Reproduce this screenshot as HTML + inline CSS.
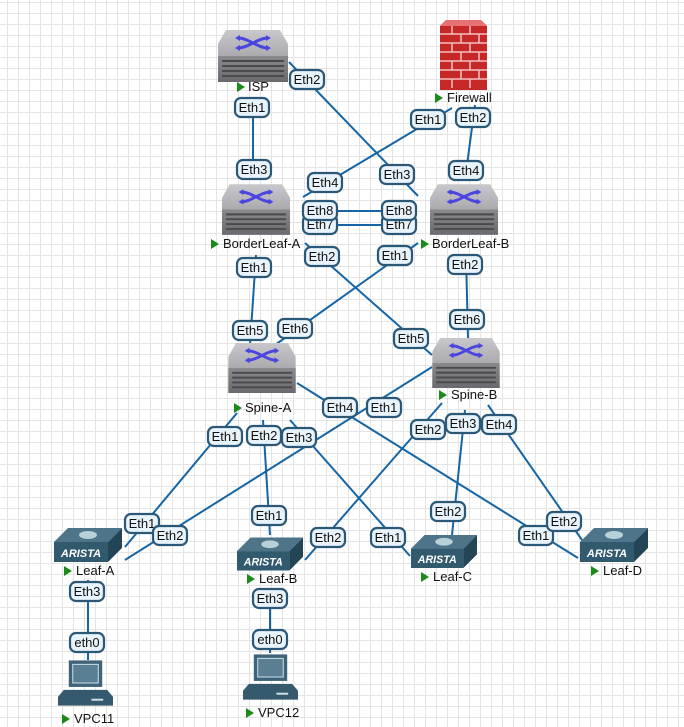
<!DOCTYPE html>
<html><head><meta charset="utf-8"><style>
html,body{margin:0;padding:0;background:#fff}
svg{display:block}
text{font-family:"Liberation Sans",Arial,sans-serif}
.l{stroke:#1565a6;stroke-width:2;fill:none}
.lb rect{fill:#e8f3fb;stroke:#2b5876;stroke-width:2.2}
.lb text{font-size:13px;fill:#111;text-anchor:middle}
.nm{font-size:13px;fill:#111;font-weight:500}
</style></head><body>
<svg width="684" height="727" viewBox="0 0 684 727" xmlns="http://www.w3.org/2000/svg">
<defs>
<pattern id="g" x="7" y="2" width="11" height="11" patternUnits="userSpaceOnUse">
<path d="M0 0H11M0 0V11" stroke="#e4e4e4" stroke-width="2" fill="none"/>
</pattern>
<linearGradient id="rt" x1="0" y1="0" x2="0" y2="1"><stop offset="0" stop-color="#c8c8cc"/><stop offset="1" stop-color="#8d8d92"/></linearGradient>
<linearGradient id="rb" x1="0" y1="0" x2="0" y2="1"><stop offset="0" stop-color="#8a8a8e"/><stop offset="1" stop-color="#6a6a6e"/></linearGradient>
<symbol id="router" viewBox="0 0 70 52">
<path d="M8 0H62L70 14V52H0V14Z" fill="url(#rt)"/>
<rect x="0" y="26" width="70" height="26" fill="url(#rb)"/>
<g stroke="#4a4a4e" stroke-width="2"><path d="M4 31H66M4 36H66M4 41H66M4 46H66"/></g>
<g stroke="#4b45e0" stroke-width="3" fill="none"><path d="M20 8C30 8 40 18 50 18M20 18C30 18 40 8 50 8"/></g>
<path d="M17 8l5-3v6zM17 18l5-3v6zM53 8l-5-3v6zM53 18l-5-3v6z" fill="#4b45e0"/>
</symbol>
<symbol id="arista" viewBox="0 0 68 34">
<path d="M14 0H68L54 14H0Z" fill="#4d7488"/>
<path d="M54 14L68 0V20L54 34Z" fill="#244556"/>
<rect x="0" y="14" width="54" height="20" fill="#325a6e"/>
<ellipse cx="34" cy="7" rx="9" ry="4" fill="#b8d0d8"/>
<text x="27" y="29" font-size="11" font-weight="bold" fill="#fff" text-anchor="middle" font-style="italic">ARISTA</text>
</symbol>
<symbol id="pc" viewBox="0 0 56 48">
<rect x="11" y="0" width="34" height="27" fill="#3f6479"/>
<rect x="15" y="4" width="26" height="19" fill="#5a7f92" stroke="#cfe0e8" stroke-width="1"/>
<path d="M6 30H50L56 37V46H0V37Z" fill="#35596d"/>
<rect x="34" y="39" width="12" height="2" fill="#cfe0e8"/>
</symbol>
<symbol id="fw" viewBox="0 0 47 70">
<path d="M6 0H41L47 6V70H0V6Z" fill="#c62828"/>
<path d="M6 0H41L47 6H0Z" fill="#e57373"/>
<g stroke="#f3c0c0" stroke-width="1.5"><path d="M0 14H47M0 23H47M0 32H47M0 41H47M0 50H47M0 59H47"/>
<path d="M12 6V14M30 6V14M21 14V23M39 14V23M12 23V32M30 23V32M21 32V41M39 32V41M12 41V50M30 41V50M21 50V59M39 50V59M12 59V68M30 59V68"/></g>
</symbol>
</defs>
<rect width="684" height="727" fill="#fff"/>
<rect width="684" height="727" fill="url(#g)"/>

<g class="l">
<path d="M253 97V180"/>
<path d="M289 62L418 196"/>
<path d="M452 108L303 197"/>
<path d="M475 105L465 180"/>
<path d="M335 211H385M335 225H385"/>
<path d="M256 255L250 345"/>
<path d="M305 243L432 355"/>
<path d="M418 243L275 345"/>
<path d="M466 255L468 338"/>
<path d="M237 413L125 547"/>
<path d="M263 420L270 535"/>
<path d="M290 420L410 556"/>
<path d="M297 383L578 558"/>
<path d="M432 367L125 560"/>
<path d="M442 403L305 560"/>
<path d="M465 410L452 535"/>
<path d="M488 405L582 540"/>
<path d="M88 580V660"/>
<path d="M270 588V653"/>
</g>

<use href="#router" x="218" y="30" width="70" height="52"/>
<use href="#fw" x="440" y="20" width="47" height="70"/>
<use href="#router" x="222" y="183" width="68" height="53"/>
<use href="#router" x="430" y="183" width="68" height="53"/>
<use href="#router" x="227" y="343" width="70" height="50"/>
<use href="#router" x="432" y="338" width="68" height="50"/>
<use href="#arista" x="54" y="528" width="68" height="34"/>
<use href="#arista" x="237" y="537" width="66" height="34"/>
<use href="#arista" x="410" y="535" width="68" height="33"/>
<use href="#arista" x="580" y="528" width="68" height="34"/>
<use href="#pc" x="58" y="660" width="55" height="48"/>
<use href="#pc" x="243" y="654" width="55" height="48"/>

<g class="nm">
<path d="M237 82l8 5-8 5z" fill="#1a8a1a"/><text x="248" y="91">ISP</text>
<path d="M435 93l8 5-8 5z" fill="#1a8a1a"/><text x="447" y="102">Firewall</text>
<path d="M211 239l8 5-8 5z" fill="#1a8a1a"/><text x="223" y="248">BorderLeaf-A</text>
<path d="M421 239l8 5-8 5z" fill="#1a8a1a"/><text x="432" y="248">BorderLeaf-B</text>
<path d="M234 403l8 5-8 5z" fill="#1a8a1a"/><text x="245" y="412">Spine-A</text>
<path d="M439 390l8 5-8 5z" fill="#1a8a1a"/><text x="451" y="399">Spine-B</text>
<path d="M64 566l8 5-8 5z" fill="#1a8a1a"/><text x="76" y="575">Leaf-A</text>
<path d="M247 574l8 5-8 5z" fill="#1a8a1a"/><text x="259" y="583">Leaf-B</text>
<path d="M421 572l8 5-8 5z" fill="#1a8a1a"/><text x="433" y="581">Leaf-C</text>
<path d="M591 566l8 5-8 5z" fill="#1a8a1a"/><text x="603" y="575">Leaf-D</text>
<path d="M62 714l8 5-8 5z" fill="#1a8a1a"/><text x="74" y="723">VPC11</text>
<path d="M246 708l8 5-8 5z" fill="#1a8a1a"/><text x="258" y="717">VPC12</text>
</g>

<g class="lb">
<rect x="235" y="98" width="34" height="19" rx="6"/><text x="252" y="112">Eth1</text>
<rect x="290" y="70" width="34" height="19" rx="6"/><text x="307" y="84">Eth2</text>
<rect x="411" y="110" width="34" height="19" rx="6"/><text x="428" y="124">Eth1</text>
<rect x="456" y="108" width="34" height="19" rx="6"/><text x="473" y="122">Eth2</text>
<rect x="237" y="160" width="34" height="19" rx="6"/><text x="254" y="174">Eth3</text>
<rect x="380" y="165" width="34" height="19" rx="6"/><text x="397" y="179">Eth3</text>
<rect x="308" y="173" width="34" height="19" rx="6"/><text x="325" y="187">Eth4</text>
<rect x="449" y="161" width="34" height="19" rx="6"/><text x="466" y="175">Eth4</text>
<rect x="303" y="215" width="34" height="19" rx="6"/><text x="320" y="229">Eth7</text>
<rect x="303" y="201" width="34" height="19" rx="6"/><text x="320" y="215">Eth8</text>
<rect x="382" y="215" width="34" height="19" rx="6"/><text x="399" y="229">Eth7</text>
<rect x="382" y="201" width="34" height="19" rx="6"/><text x="399" y="215">Eth8</text>
<rect x="237" y="258" width="34" height="19" rx="6"/><text x="254" y="272">Eth1</text>
<rect x="305" y="247" width="34" height="19" rx="6"/><text x="322" y="261">Eth2</text>
<rect x="378" y="246" width="34" height="19" rx="6"/><text x="395" y="260">Eth1</text>
<rect x="448" y="255" width="34" height="19" rx="6"/><text x="465" y="269">Eth2</text>
<rect x="233" y="321" width="34" height="19" rx="6"/><text x="250" y="335">Eth5</text>
<rect x="278" y="319" width="34" height="19" rx="6"/><text x="295" y="333">Eth6</text>
<rect x="394" y="329" width="34" height="19" rx="6"/><text x="411" y="343">Eth5</text>
<rect x="450" y="310" width="34" height="19" rx="6"/><text x="467" y="324">Eth6</text>
<rect x="208" y="427" width="34" height="19" rx="6"/><text x="225" y="441">Eth1</text>
<rect x="247" y="426" width="34" height="19" rx="6"/><text x="264" y="440">Eth2</text>
<rect x="282" y="428" width="34" height="19" rx="6"/><text x="299" y="442">Eth3</text>
<rect x="323" y="398" width="34" height="19" rx="6"/><text x="340" y="412">Eth4</text>
<rect x="367" y="398" width="34" height="19" rx="6"/><text x="384" y="412">Eth1</text>
<rect x="411" y="420" width="34" height="19" rx="6"/><text x="428" y="434">Eth2</text>
<rect x="446" y="414" width="34" height="19" rx="6"/><text x="463" y="428">Eth3</text>
<rect x="482" y="415" width="34" height="19" rx="6"/><text x="499" y="429">Eth4</text>
<rect x="125" y="514" width="34" height="19" rx="6"/><text x="142" y="528">Eth1</text>
<rect x="153" y="526" width="34" height="19" rx="6"/><text x="170" y="540">Eth2</text>
<rect x="252" y="506" width="34" height="19" rx="6"/><text x="269" y="520">Eth1</text>
<rect x="311" y="528" width="34" height="19" rx="6"/><text x="328" y="542">Eth2</text>
<rect x="371" y="528" width="34" height="19" rx="6"/><text x="388" y="542">Eth1</text>
<rect x="431" y="502" width="34" height="19" rx="6"/><text x="448" y="516">Eth2</text>
<rect x="519" y="526" width="34" height="19" rx="6"/><text x="536" y="540">Eth1</text>
<rect x="547" y="512" width="34" height="19" rx="6"/><text x="564" y="526">Eth2</text>
<rect x="70" y="582" width="34" height="19" rx="6"/><text x="87" y="596">Eth3</text>
<rect x="253" y="589" width="34" height="19" rx="6"/><text x="270" y="603">Eth3</text>
<rect x="70" y="633" width="34" height="19" rx="6"/><text x="87" y="647">eth0</text>
<rect x="253" y="630" width="34" height="19" rx="6"/><text x="270" y="644">eth0</text>
</g>
</svg>
</body></html>
